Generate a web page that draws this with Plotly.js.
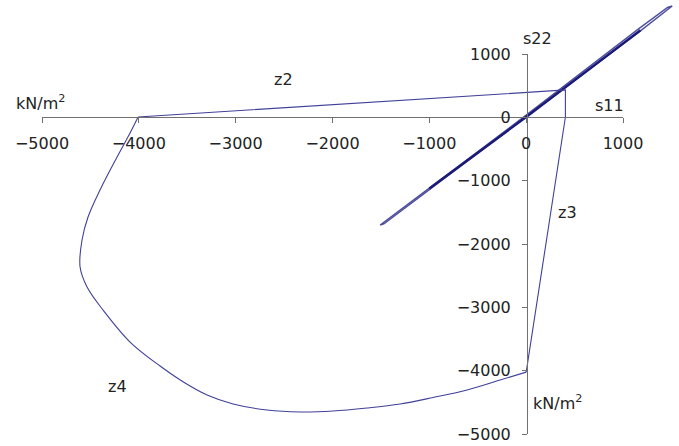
<!DOCTYPE html>
<html>
<head>
<meta charset="utf-8">
<script src="https://cdn.plot.ly/plotly-3.0.1.min.js"></script>
<style>
  html, body { margin: 0; padding: 0; background: #ffffff; }
  #chart { width: 679px; height: 446px; }
</style>
</head>
<body>
<div id="chart"></div>
<script>
// Stress path in the s11 / s22 plane (kN/m²)

// Tick values shared by both stress axes
const tickValues = [-5000, -4000, -3000, -2000, -1000, 0, 1000];

// Large cyclic loading along the diagonal (narrow loop at the upper end)
const outerCycleS11 = [0, 1180, 1508, 1460, 1150, 0, -1508, -1470, 0];
const outerCycleS22 = [0, 1360, 1754, 1730, 1380, 30, -1706, -1690, 0];

// Repeated smaller cycles, drawn heavier
const innerCycleS11 = [-1000, 0, 1180];
const innerCycleS22 = [-1130, 0, 1370];

// Zones z2 and z3: straight legs from (-4000, 0) down to (0, -4000)
const zoneStraightS11 = [-4008, 405, 405, 0];
const zoneStraightS22 = [0, 427, 0, -4030];

// Zone z4: curved leg from (0, -4000) back to (-4000, 0)
const zoneCurveS11 = [0, -269, -610, -961, -1302, -1643, -1994, -2335,
                      -2676, -3027, -3295, -3523, -3781, -4091, -4370, -4535, -4607,
                      -4587, -4525, -4401, -4225, -4091, -4008];
const zoneCurveS22 = [-4030, -4155, -4313, -4431, -4534, -4597, -4645, -4660,
                      -4629, -4534, -4392, -4202, -3934, -3555, -3049, -2686, -2370,
                      -1943, -1580, -1153, -632, -253, 0];

const fontFamily = 'DejaVu Sans, Liberation Sans, Arial, sans-serif';
const textColor = '#222222';
const axisColor = '#707070';
const zoneColor = '#40409a';

const traces = [
  {
    x: outerCycleS11, y: outerCycleS22, type: 'scatter', mode: 'lines',
    line: { color: '#4e4e9c', width: 1.4 }, hoverinfo: 'skip'
  },
  {
    x: innerCycleS11, y: innerCycleS22, type: 'scatter', mode: 'lines',
    line: { color: '#1a1a78', width: 2.3 }, hoverinfo: 'skip'
  },
  {
    x: zoneStraightS11, y: zoneStraightS22, type: 'scatter', mode: 'lines',
    line: { color: zoneColor, width: 1.1 }, hoverinfo: 'skip'
  },
  {
    x: zoneCurveS11, y: zoneCurveS22, type: 'scatter', mode: 'lines',
    line: { color: zoneColor, width: 1.1, shape: 'spline', smoothing: 1 },
    hoverinfo: 'skip'
  },
  {
    // empty trace that carries the visible crossing axes
    x: [], y: [], xaxis: 'x2', yaxis: 'y2', type: 'scatter', mode: 'lines',
    hoverinfo: 'skip'
  }
];

const tickFont = { family: fontFamily, size: 16, color: textColor };

const layout = {
  width: 679,
  height: 446,
  margin: { l: 0, r: 0, t: 0, b: 0, pad: 0 },
  paper_bgcolor: '#ffffff',
  plot_bgcolor: 'rgba(0,0,0,0)',
  showlegend: false,
  // data axes (hidden); ranges set so the crossing axes line up
  xaxis: { domain: [0, 1], range: [-5434, 1578], visible: false, fixedrange: true },
  yaxis: { domain: [0, 1], range: [-5197, 1848], visible: false, fixedrange: true },
  // visible axes crossing at the origin
  xaxis2: {
    domain: [42 / 679, 623 / 679], range: [-5000, 1000],
    anchor: 'free', position: (446 - 117) / 446, side: 'bottom',
    showline: true, linecolor: axisColor, linewidth: 1,
    ticks: 'outside', ticklen: 5, tickcolor: axisColor, tickwidth: 1,
    tickmode: 'array', tickvals: tickValues, ticklabelstandoff: 7,
    showgrid: false, zeroline: false, tickfont: tickFont, fixedrange: true
  },
  yaxis2: {
    domain: [(446 - 434) / 446, (446 - 54) / 446], range: [-5000, 1000],
    anchor: 'free', position: 527 / 679, side: 'left',
    showline: true, linecolor: axisColor, linewidth: 1,
    ticks: 'outside', ticklen: 5, tickcolor: axisColor, tickwidth: 1,
    tickmode: 'array', tickvals: tickValues, ticklabelstandoff: 8,
    showgrid: false, zeroline: false, tickfont: tickFont, fixedrange: true
  },
  annotations: [
    { text: 'kN/m<sup>2</sup>', x: 40 / 679, y: (446 - 102) / 446 },
    { text: 's22', x: 537 / 679, y: (446 - 38) / 446 },
    { text: 's11', x: 609 / 679, y: (446 - 105) / 446 },
    { text: 'kN/m<sup>2</sup>', x: 557 / 679, y: (446 - 402) / 446 },
    { text: 'z2', x: 283 / 679, y: (446 - 80) / 446 },
    { text: 'z3', x: 567 / 679, y: (446 - 212) / 446 },
    { text: 'z4', x: 117 / 679, y: (446 - 386) / 446 }
  ].map(a => Object.assign({
    xref: 'paper', yref: 'paper', showarrow: false,
    xanchor: 'center', yanchor: 'middle',
    font: { family: fontFamily, size: 16, color: textColor }
  }, a))
};

Plotly.newPlot('chart', traces, layout, { displayModeBar: false, staticPlot: true });
</script>
</body>
</html>
